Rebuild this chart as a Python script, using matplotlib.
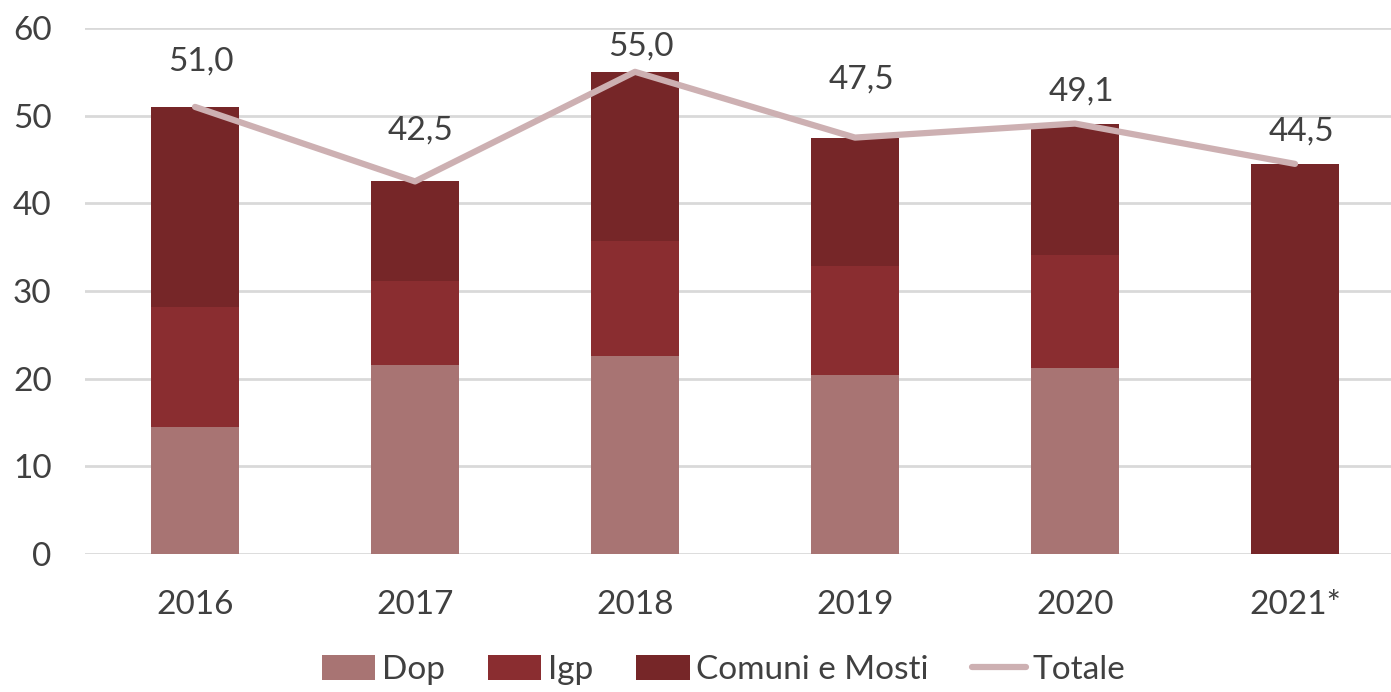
import numpy as np
import matplotlib.pyplot as plt

plt.rcParams['font.family'] = ['Lato', 'DejaVu Sans']

# data
anni = ["2016", "2017", "2018", "2019", "2020", "2021*"]
dop = [14.5, 21.6, 22.6, 20.4, 21.2, 0.0]
igp = [13.7, 9.5, 13.1, 12.4, 12.9, 0.0]
comuni = [22.8, 11.4, 19.3, 14.7, 15.0, 44.5]
totale = [51.0, 42.5, 55.0, 47.5, 49.1, 44.5]
etichette = ["51,0", "42,5", "55,0", "47,5", "49,1", "44,5"]

# label offsets above the line points (pixels)
label_dy = [45, 51, 25, 58, 32, 32]

col_dop = "#A87473"
col_igp = "#8A2D30"
col_comuni = "#762628"
col_tot = "#CDB0B2"
col_text = "#404040"

W, H = 1391, 692
fig = plt.figure(figsize=(W / 100, H / 100), dpi=100)
ax = fig.add_axes([85 / W, 1 - 554 / H, 1320 / W, 526 / H])

x = np.arange(len(anni))
bw = 0.4
b_igp = np.array(dop)
b_com = b_igp + np.array(igp)
h1 = ax.bar(x, dop, bw, color=col_dop, label="Dop", zorder=2)
h2 = ax.bar(x, igp, bw, bottom=b_igp, color=col_igp, label="Igp", zorder=2)
h3 = ax.bar(x, comuni, bw, bottom=b_com, color=col_comuni, label="Comuni e Mosti", zorder=2)
h4, = ax.plot(x, totale, color=col_tot, lw=4.5, label="Totale", zorder=3, solid_capstyle="round")

for i, (v, t) in enumerate(zip(totale, etichette)):
    ax.annotate(t, (x[i], v), xytext=(6, label_dy[i]), textcoords="offset pixels",
                ha="center", va="center", fontsize=24, color=col_text)

ax.set_xlim(-0.5, len(anni) - 0.5)
ax.set_ylim(0, 60)
ax.set_yticks(range(0, 61, 10))
ax.set_xticks(x)
ax.set_xticklabels(anni)
ax.tick_params(axis="both", length=0, labelsize=24, labelcolor=col_text)
ax.tick_params(axis="y", pad=24)
ax.tick_params(axis="x", pad=26)
ax.grid(axis="y", color="#D9D9D9", lw=2, zorder=0)
for s in ax.spines.values():
    s.set_visible(False)

fig.legend([h1, h2, h3, h4], ["Dop", "Igp", "Comuni e Mosti", "Totale"],
           loc="center", bbox_to_anchor=(0.52, 1 - 670 / H), ncol=4, frameon=False,
           fontsize=24, handlelength=1.6, handleheight=0.8, handletextpad=0.2,
           columnspacing=1.3, labelcolor=col_text)

fig.savefig("out.png", dpi=100)
